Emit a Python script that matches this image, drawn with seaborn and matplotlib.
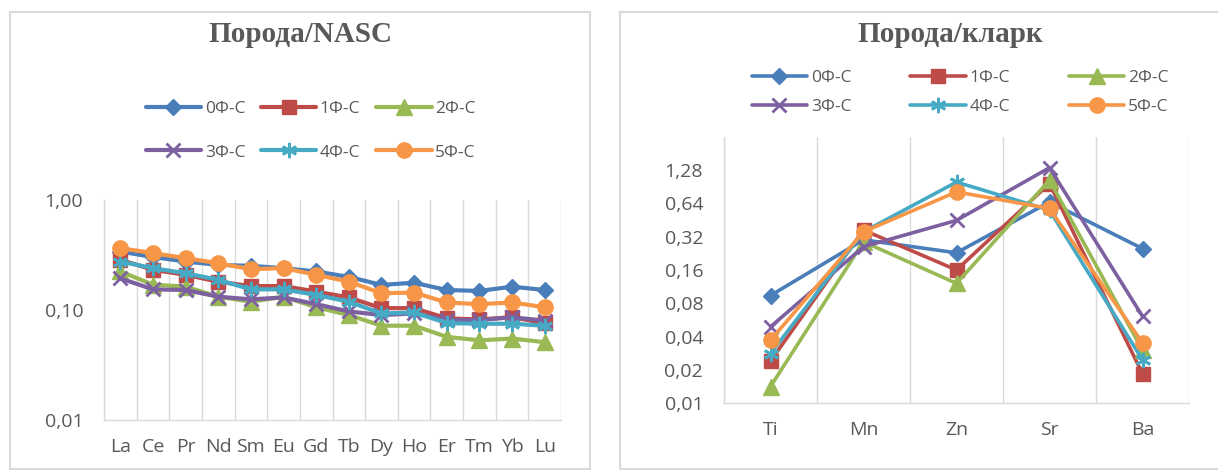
import numpy as np
import pandas as pd
import matplotlib
matplotlib.use("Agg")
import matplotlib.pyplot as plt
from matplotlib.patches import Rectangle
from matplotlib.ticker import FixedLocator, NullLocator
import seaborn as sns

# series names, colours, markers
series = ["0Ф-С", "1Ф-С", "2Ф-С", "3Ф-С", "4Ф-С", "5Ф-С"]
colors = ["#4A7EBB", "#BE4B48", "#98B954", "#7D60A0", "#46AAC5", "#F79646"]
markers = ["D", "s", "^", "x", (6, 2, 0), "o"]
msizes = [8.5, 10, 11.5, 10, 11, 11]

# left chart: rock / NASC (REE)
ree = ["La", "Ce", "Pr", "Nd", "Sm", "Eu", "Gd", "Tb", "Dy", "Ho", "Er", "Tm", "Yb", "Lu"]
nasc_0 = [0.340, 0.303, 0.276, 0.257, 0.252, 0.240, 0.224, 0.200, 0.169, 0.177, 0.152, 0.149, 0.163, 0.152]
nasc_1 = [0.286, 0.232, 0.209, 0.181, 0.165, 0.165, 0.147, 0.130, 0.104, 0.104, 0.084, 0.082, 0.086, 0.076]
nasc_2 = [0.224, 0.170, 0.163, 0.132, 0.119, 0.132, 0.106, 0.090, 0.072, 0.072, 0.057, 0.053, 0.055, 0.051]
nasc_3 = [0.194, 0.154, 0.152, 0.132, 0.125, 0.130, 0.113, 0.097, 0.090, 0.093, 0.081, 0.081, 0.086, 0.080]
nasc_4 = [0.276, 0.240, 0.216, 0.188, 0.154, 0.154, 0.137, 0.119, 0.093, 0.095, 0.076, 0.075, 0.075, 0.072]
nasc_5 = [0.365, 0.329, 0.296, 0.266, 0.235, 0.240, 0.209, 0.181, 0.142, 0.144, 0.117, 0.113, 0.117, 0.106]
nasc_ticks = [0.01, 0.1, 1.0]
nasc_labels = ["0,01", "0,10", "1,00"]

# right chart: rock / clarke
elems = ["Ti", "Mn", "Zn", "Sr", "Ba"]
clarke_0 = [0.094, 0.300, 0.229, 0.660, 0.250]
clarke_1 = [0.024, 0.368, 0.160, 0.970, 0.0184]
clarke_2 = [0.0141, 0.288, 0.121, 1.040, 0.030]
clarke_3 = [0.049, 0.260, 0.450, 1.350, 0.061]
clarke_4 = [0.028, 0.355, 1.000, 0.557, 0.0246]
clarke_5 = [0.037, 0.355, 0.815, 0.577, 0.035]
clarke_ticks = [0.01, 0.02, 0.04, 0.08, 0.16, 0.32, 0.64, 1.28]
clarke_labels = ["0,01", "0,02", "0,04", "0,08", "0,16", "0,32", "0,64", "1,28"]

sns.set_style("white")
plt.rcParams['font.family'] = ['Open Sans', 'DejaVu Sans']
TXT = "#595959"
GRID = "#D9D9D9"

fig = plt.figure(figsize=(12.18, 4.70), dpi=100)
W, H = 1218, 470

# chart frames
fig.patches.append(Rectangle((10 / W, 1 - 469 / H), 580 / W, 457 / H, transform=fig.transFigure,
                             fill=False, edgecolor=GRID, lw=1.5))
fig.patches.append(Rectangle((620 / W, 1 - 469 / H), 610 / W, 457 / H, transform=fig.transFigure,
                             fill=False, edgecolor=GRID, lw=1.5))


def draw(ax, cats, data, ticks, labels, ylim, lw):
    x = np.arange(len(cats))
    for name, vals, c, m, ms in zip(series, data, colors, markers, msizes):
        mew = 2.0 if m in ("x", (6, 2, 0)) else 1.0
        sns.lineplot(x=x, y=vals, ax=ax, color=c, marker=m, markersize=ms,
                     markeredgecolor=c, markeredgewidth=mew, linewidth=lw, label=name)
    ax.set_yscale("log")
    ax.set_ylim(*ylim)
    ax.set_xlim(-0.5, len(cats) - 0.5)
    ax.yaxis.set_major_locator(FixedLocator(ticks))
    ax.yaxis.set_minor_locator(NullLocator())
    ax.set_yticklabels(labels)
    ax.set_xticks(x)
    ax.set_xticklabels(cats)
    ax.set_xticks(np.arange(len(cats) + 1) - 0.5, minor=True)
    ax.grid(which="minor", axis="x", color=GRID, lw=1)
    ax.grid(which="major", visible=False)
    ax.tick_params(axis="x", which="both", length=0, pad=13, labelsize=14, labelcolor=TXT)
    ax.tick_params(axis="y", which="both", length=0, pad=15, labelsize=14, labelcolor=TXT)
    for s in ["top", "right"]:
        ax.spines[s].set_visible(False)
    for s in ["left", "bottom"]:
        ax.spines[s].set_color(GRID)
        ax.spines[s].set_linewidth(1)
    ax.set_xlabel("")
    ax.set_ylabel("")
    h, l = ax.get_legend_handles_labels()
    ax.get_legend().remove()
    # legend fills column by column, so reorder to read row by row
    order = [0, 3, 1, 4, 2, 5]
    return [h[i] for i in order], [l[i] for i in order]


ax1 = fig.add_axes([104 / W, 50 / H, 457 / W, 220 / H])
h, l = draw(ax1, ree, [nasc_0, nasc_1, nasc_2, nasc_3, nasc_4, nasc_5],
            nasc_ticks, nasc_labels, (0.01, 1.0), 3.0)
fig.legend(h, l, loc="center left", bbox_to_anchor=(137 / W, 1 - 130.5 / H), ncol=3,
           frameon=False, fontsize=12.5, labelcolor=TXT, handlelength=3.2, handletextpad=0.2,
           columnspacing=0.9, labelspacing=1.6, borderpad=0, numpoints=1)
fig.text(300 / W, 1 - 35 / H, "Порода/NASC", ha="center", va="center", fontsize=21,
         fontweight="bold", color=TXT, family=["Liberation Serif", "DejaVu Serif"])

ax2 = fig.add_axes([724 / W, 67 / H, 465 / W, 266 / H])
h, l = draw(ax2, elems, [clarke_0, clarke_1, clarke_2, clarke_3, clarke_4, clarke_5],
            clarke_ticks, clarke_labels, (0.01, 2.56), 2.6)
fig.legend(h, l, loc="center left", bbox_to_anchor=(743 / W, 1 - 92.5 / H), ncol=3,
           frameon=False, fontsize=12.5, labelcolor=TXT, handlelength=3.2, handletextpad=0.2,
           columnspacing=3.4, labelspacing=0.75, borderpad=0, numpoints=1)
fig.text(950 / W, 1 - 35 / H, "Порода/кларк", ha="center", va="center", fontsize=21,
         fontweight="bold", color=TXT, family=["Liberation Serif", "DejaVu Serif"])

fig.savefig("out.png", dpi=100)
